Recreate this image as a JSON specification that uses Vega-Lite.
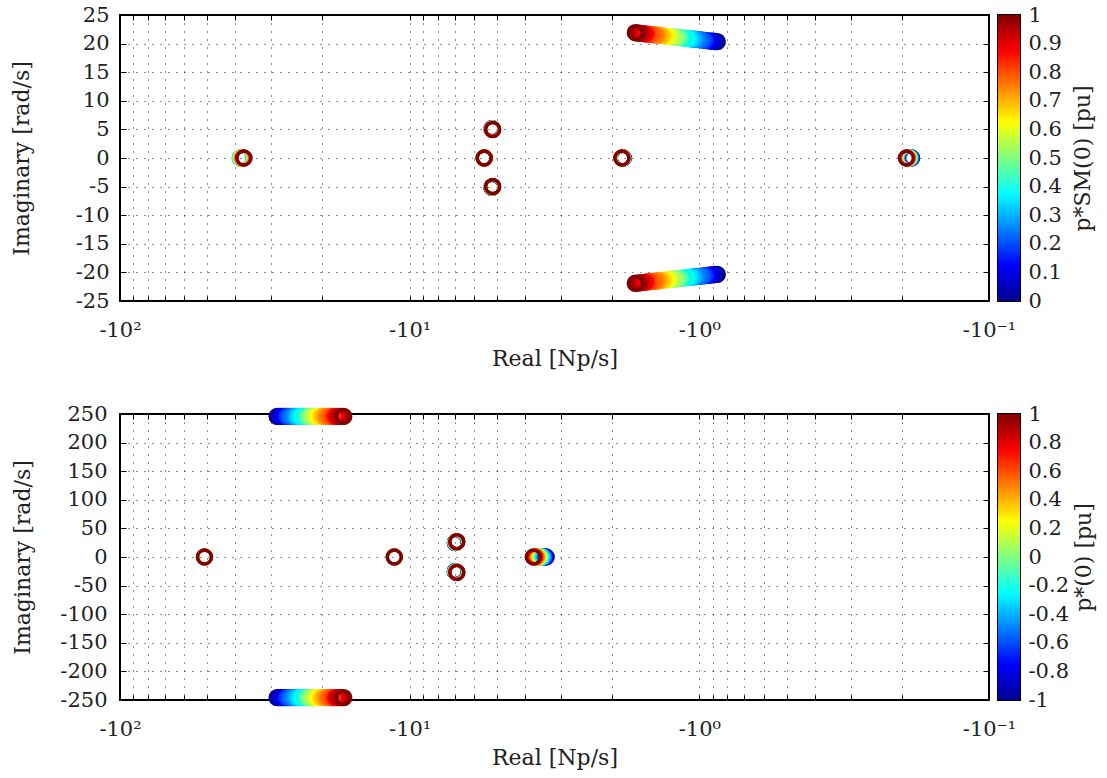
{
  "$schema": "https://vega.github.io/schema/vega-lite/v6.json",
  "background": "white",
  "padding": {"left": 9, "top": 3, "right": 5, "bottom": 5},
  "bounds": "flush",
  "columns": 2,
  "spacing": {"row": 113, "column": 9},
  "datasets": {
    "top": [
      {"re": -0.8670, "im": 20.33, "p": 0}, {"re": -0.8812, "im": 20.37, "p": 0.025}, {"re": -0.8957, "im": 20.41, "p": 0.05}, {"re": -0.9104, "im": 20.45, "p": 0.075}, {"re": -0.9254, "im": 20.49, "p": 0.1}, {"re": -0.9406, "im": 20.53, "p": 0.125}, {"re": -0.9560, "im": 20.57, "p": 0.15}, {"re": -0.9717, "im": 20.60, "p": 0.175}, {"re": -0.9877, "im": 20.64, "p": 0.2}, {"re": -1.0039, "im": 20.68, "p": 0.225}, {"re": -1.0204, "im": 20.72, "p": 0.25}, {"re": -1.0372, "im": 20.76, "p": 0.275}, {"re": -1.0542, "im": 20.80, "p": 0.3}, {"re": -1.0715, "im": 20.84, "p": 0.325}, {"re": -1.0891, "im": 20.88, "p": 0.35}, {"re": -1.1070, "im": 20.92, "p": 0.375}, {"re": -1.1252, "im": 20.96, "p": 0.4}, {"re": -1.1437, "im": 21.00, "p": 0.425}, {"re": -1.1625, "im": 21.04, "p": 0.45}, {"re": -1.1816, "im": 21.08, "p": 0.475}, {"re": -1.2010, "im": 21.12, "p": 0.5}, {"re": -1.2207, "im": 21.15, "p": 0.525}, {"re": -1.2408, "im": 21.19, "p": 0.55}, {"re": -1.2612, "im": 21.23, "p": 0.575}, {"re": -1.2819, "im": 21.27, "p": 0.6}, {"re": -1.3030, "im": 21.31, "p": 0.625}, {"re": -1.3244, "im": 21.35, "p": 0.65}, {"re": -1.3462, "im": 21.39, "p": 0.675}, {"re": -1.3683, "im": 21.43, "p": 0.7}, {"re": -1.3908, "im": 21.47, "p": 0.725}, {"re": -1.4136, "im": 21.51, "p": 0.75}, {"re": -1.4368, "im": 21.55, "p": 0.775}, {"re": -1.4604, "im": 21.59, "p": 0.8}, {"re": -1.4844, "im": 21.63, "p": 0.825}, {"re": -1.5088, "im": 21.66, "p": 0.85}, {"re": -1.5336, "im": 21.70, "p": 0.875}, {"re": -1.5588, "im": 21.74, "p": 0.9}, {"re": -1.5844, "im": 21.78, "p": 0.925}, {"re": -1.6104, "im": 21.82, "p": 0.95}, {"re": -1.6369, "im": 21.86, "p": 0.975}, {"re": -1.6638, "im": 21.90, "p": 1},
      {"re": -0.8670, "im": -20.33, "p": 0}, {"re": -0.8812, "im": -20.37, "p": 0.025}, {"re": -0.8957, "im": -20.41, "p": 0.05}, {"re": -0.9104, "im": -20.45, "p": 0.075}, {"re": -0.9254, "im": -20.49, "p": 0.1}, {"re": -0.9406, "im": -20.53, "p": 0.125}, {"re": -0.9560, "im": -20.57, "p": 0.15}, {"re": -0.9717, "im": -20.60, "p": 0.175}, {"re": -0.9877, "im": -20.64, "p": 0.2}, {"re": -1.0039, "im": -20.68, "p": 0.225}, {"re": -1.0204, "im": -20.72, "p": 0.25}, {"re": -1.0372, "im": -20.76, "p": 0.275}, {"re": -1.0542, "im": -20.80, "p": 0.3}, {"re": -1.0715, "im": -20.84, "p": 0.325}, {"re": -1.0891, "im": -20.88, "p": 0.35}, {"re": -1.1070, "im": -20.92, "p": 0.375}, {"re": -1.1252, "im": -20.96, "p": 0.4}, {"re": -1.1437, "im": -21.00, "p": 0.425}, {"re": -1.1625, "im": -21.04, "p": 0.45}, {"re": -1.1816, "im": -21.08, "p": 0.475}, {"re": -1.2010, "im": -21.12, "p": 0.5}, {"re": -1.2207, "im": -21.15, "p": 0.525}, {"re": -1.2408, "im": -21.19, "p": 0.55}, {"re": -1.2612, "im": -21.23, "p": 0.575}, {"re": -1.2819, "im": -21.27, "p": 0.6}, {"re": -1.3030, "im": -21.31, "p": 0.625}, {"re": -1.3244, "im": -21.35, "p": 0.65}, {"re": -1.3462, "im": -21.39, "p": 0.675}, {"re": -1.3683, "im": -21.43, "p": 0.7}, {"re": -1.3908, "im": -21.47, "p": 0.725}, {"re": -1.4136, "im": -21.51, "p": 0.75}, {"re": -1.4368, "im": -21.55, "p": 0.775}, {"re": -1.4604, "im": -21.59, "p": 0.8}, {"re": -1.4844, "im": -21.63, "p": 0.825}, {"re": -1.5088, "im": -21.66, "p": 0.85}, {"re": -1.5336, "im": -21.70, "p": 0.875}, {"re": -1.5588, "im": -21.74, "p": 0.9}, {"re": -1.5844, "im": -21.78, "p": 0.925}, {"re": -1.6104, "im": -21.82, "p": 0.95}, {"re": -1.6369, "im": -21.86, "p": 0.975}, {"re": -1.6638, "im": -21.90, "p": 1},
      {"re": -38.20, "im": 0, "p": 0}, {"re": -38.30, "im": 0, "p": 0.1}, {"re": -38.40, "im": 0, "p": 0.2}, {"re": -38.45, "im": 0, "p": 0.3}, {"re": -38.40, "im": 0, "p": 0.4}, {"re": -38.25, "im": 0, "p": 0.5}, {"re": -38.05, "im": 0, "p": 0.6}, {"re": -37.85, "im": 0, "p": 0.7}, {"re": -37.65, "im": 0, "p": 0.8}, {"re": -37.45, "im": 0, "p": 0.9}, {"re": -37.30, "im": 0, "p": 1},
      {"re": -5.53, "im": 0, "p": 0}, {"re": -5.53, "im": 0, "p": 0.1}, {"re": -5.53, "im": 0, "p": 0.2}, {"re": -5.53, "im": 0, "p": 0.3}, {"re": -5.53, "im": 0, "p": 0.4}, {"re": -5.53, "im": 0, "p": 0.5}, {"re": -5.53, "im": 0, "p": 0.6}, {"re": -5.53, "im": 0, "p": 0.7}, {"re": -5.53, "im": 0, "p": 0.8}, {"re": -5.53, "im": 0, "p": 0.9}, {"re": -5.53, "im": 0, "p": 1},
      {"re": -5.200, "im": 5.150, "p": 0}, {"re": -5.197, "im": 5.133, "p": 0.1}, {"re": -5.194, "im": 5.116, "p": 0.2}, {"re": -5.191, "im": 5.099, "p": 0.3}, {"re": -5.188, "im": 5.082, "p": 0.4}, {"re": -5.185, "im": 5.065, "p": 0.5}, {"re": -5.182, "im": 5.048, "p": 0.6}, {"re": -5.179, "im": 5.031, "p": 0.7}, {"re": -5.176, "im": 5.014, "p": 0.8}, {"re": -5.173, "im": 4.997, "p": 0.9}, {"re": -5.170, "im": 4.980, "p": 1},
      {"re": -5.200, "im": -5.150, "p": 0}, {"re": -5.197, "im": -5.133, "p": 0.1}, {"re": -5.194, "im": -5.116, "p": 0.2}, {"re": -5.191, "im": -5.099, "p": 0.3}, {"re": -5.188, "im": -5.082, "p": 0.4}, {"re": -5.185, "im": -5.065, "p": 0.5}, {"re": -5.182, "im": -5.048, "p": 0.6}, {"re": -5.179, "im": -5.031, "p": 0.7}, {"re": -5.176, "im": -5.014, "p": 0.8}, {"re": -5.173, "im": -4.997, "p": 0.9}, {"re": -5.170, "im": -4.980, "p": 1},
      {"re": -1.830, "im": 0, "p": 0}, {"re": -1.832, "im": 0, "p": 0.1}, {"re": -1.834, "im": 0, "p": 0.2}, {"re": -1.837, "im": 0, "p": 0.3}, {"re": -1.839, "im": 0, "p": 0.4}, {"re": -1.841, "im": 0, "p": 0.5}, {"re": -1.843, "im": 0, "p": 0.6}, {"re": -1.845, "im": 0, "p": 0.7}, {"re": -1.848, "im": 0, "p": 0.8}, {"re": -1.850, "im": 0, "p": 0.9}, {"re": -1.852, "im": 0, "p": 1},
      {"re": -0.1850, "im": 0, "p": 0}, {"re": -0.1858, "im": 0, "p": 0.1}, {"re": -0.1866, "im": 0, "p": 0.2}, {"re": -0.1874, "im": 0, "p": 0.3}, {"re": -0.1882, "im": 0, "p": 0.4}, {"re": -0.1890, "im": 0, "p": 0.5}, {"re": -0.1898, "im": 0, "p": 0.6}, {"re": -0.1906, "im": 0, "p": 0.7}, {"re": -0.1914, "im": 0, "p": 0.8}, {"re": -0.1922, "im": 0, "p": 0.9}, {"re": -0.1930, "im": 0, "p": 1}
    ],
    "bottom": [
      {"re": -28.69, "im": 246, "p": -1}, {"re": -28.31, "im": 246, "p": -0.95}, {"re": -27.94, "im": 246, "p": -0.9}, {"re": -27.57, "im": 246, "p": -0.85}, {"re": -27.21, "im": 246, "p": -0.8}, {"re": -26.85, "im": 246, "p": -0.75}, {"re": -26.50, "im": 246, "p": -0.7}, {"re": -26.15, "im": 246, "p": -0.65}, {"re": -25.80, "im": 246, "p": -0.6}, {"re": -25.46, "im": 246, "p": -0.55}, {"re": -25.13, "im": 246, "p": -0.5}, {"re": -24.80, "im": 246, "p": -0.45}, {"re": -24.47, "im": 246, "p": -0.4}, {"re": -24.15, "im": 246, "p": -0.35}, {"re": -23.83, "im": 246, "p": -0.3}, {"re": -23.51, "im": 246, "p": -0.25}, {"re": -23.20, "im": 246, "p": -0.2}, {"re": -22.90, "im": 246, "p": -0.15}, {"re": -22.60, "im": 246, "p": -0.1}, {"re": -22.30, "im": 246, "p": -0.05}, {"re": -22.00, "im": 246, "p": 0}, {"re": -21.71, "im": 246, "p": 0.05}, {"re": -21.43, "im": 246, "p": 0.1}, {"re": -21.15, "im": 246, "p": 0.15}, {"re": -20.87, "im": 246, "p": 0.2}, {"re": -20.59, "im": 246, "p": 0.25}, {"re": -20.32, "im": 246, "p": 0.3}, {"re": -20.05, "im": 246, "p": 0.35}, {"re": -19.79, "im": 246, "p": 0.4}, {"re": -19.53, "im": 246, "p": 0.45}, {"re": -19.27, "im": 246, "p": 0.5}, {"re": -19.02, "im": 246, "p": 0.55}, {"re": -18.77, "im": 246, "p": 0.6}, {"re": -18.52, "im": 246, "p": 0.65}, {"re": -18.28, "im": 246, "p": 0.7}, {"re": -18.03, "im": 246, "p": 0.75}, {"re": -17.80, "im": 246, "p": 0.8}, {"re": -17.56, "im": 246, "p": 0.85}, {"re": -17.33, "im": 246, "p": 0.9}, {"re": -17.10, "im": 246, "p": 0.95}, {"re": -16.88, "im": 246, "p": 1},
      {"re": -28.69, "im": -246, "p": -1}, {"re": -28.31, "im": -246, "p": -0.95}, {"re": -27.94, "im": -246, "p": -0.9}, {"re": -27.57, "im": -246, "p": -0.85}, {"re": -27.21, "im": -246, "p": -0.8}, {"re": -26.85, "im": -246, "p": -0.75}, {"re": -26.50, "im": -246, "p": -0.7}, {"re": -26.15, "im": -246, "p": -0.65}, {"re": -25.80, "im": -246, "p": -0.6}, {"re": -25.46, "im": -246, "p": -0.55}, {"re": -25.13, "im": -246, "p": -0.5}, {"re": -24.80, "im": -246, "p": -0.45}, {"re": -24.47, "im": -246, "p": -0.4}, {"re": -24.15, "im": -246, "p": -0.35}, {"re": -23.83, "im": -246, "p": -0.3}, {"re": -23.51, "im": -246, "p": -0.25}, {"re": -23.20, "im": -246, "p": -0.2}, {"re": -22.90, "im": -246, "p": -0.15}, {"re": -22.60, "im": -246, "p": -0.1}, {"re": -22.30, "im": -246, "p": -0.05}, {"re": -22.00, "im": -246, "p": 0}, {"re": -21.71, "im": -246, "p": 0.05}, {"re": -21.43, "im": -246, "p": 0.1}, {"re": -21.15, "im": -246, "p": 0.15}, {"re": -20.87, "im": -246, "p": 0.2}, {"re": -20.59, "im": -246, "p": 0.25}, {"re": -20.32, "im": -246, "p": 0.3}, {"re": -20.05, "im": -246, "p": 0.35}, {"re": -19.79, "im": -246, "p": 0.4}, {"re": -19.53, "im": -246, "p": 0.45}, {"re": -19.27, "im": -246, "p": 0.5}, {"re": -19.02, "im": -246, "p": 0.55}, {"re": -18.77, "im": -246, "p": 0.6}, {"re": -18.52, "im": -246, "p": 0.65}, {"re": -18.28, "im": -246, "p": 0.7}, {"re": -18.03, "im": -246, "p": 0.75}, {"re": -17.80, "im": -246, "p": 0.8}, {"re": -17.56, "im": -246, "p": 0.85}, {"re": -17.33, "im": -246, "p": 0.9}, {"re": -17.10, "im": -246, "p": 0.95}, {"re": -16.88, "im": -246, "p": 1},
      {"re": -51.1, "im": 0, "p": -1}, {"re": -51.1, "im": 0, "p": -0.6}, {"re": -51.1, "im": 0, "p": -0.2}, {"re": -51.1, "im": 0, "p": 0.2}, {"re": -51.1, "im": 0, "p": 0.6}, {"re": -51.1, "im": 0, "p": 1},
      {"re": -11.3, "im": 0, "p": -1}, {"re": -11.3, "im": 0, "p": -0.6}, {"re": -11.3, "im": 0, "p": -0.2}, {"re": -11.3, "im": 0, "p": 0.2}, {"re": -11.3, "im": 0, "p": 0.6}, {"re": -11.3, "im": 0, "p": 1},
      {"re": -6.960, "im": 25.3, "p": -1}, {"re": -6.951, "im": 25.47, "p": -0.8}, {"re": -6.942, "im": 25.64, "p": -0.6}, {"re": -6.933, "im": 25.81, "p": -0.4}, {"re": -6.924, "im": 25.98, "p": -0.2}, {"re": -6.915, "im": 26.15, "p": 0}, {"re": -6.906, "im": 26.32, "p": 0.2}, {"re": -6.897, "im": 26.49, "p": 0.4}, {"re": -6.888, "im": 26.66, "p": 0.6}, {"re": -6.879, "im": 26.83, "p": 0.8}, {"re": -6.870, "im": 27.0, "p": 1},
      {"re": -6.960, "im": -25.3, "p": -1}, {"re": -6.951, "im": -25.47, "p": -0.8}, {"re": -6.942, "im": -25.64, "p": -0.6}, {"re": -6.933, "im": -25.81, "p": -0.4}, {"re": -6.924, "im": -25.98, "p": -0.2}, {"re": -6.915, "im": -26.15, "p": 0}, {"re": -6.906, "im": -26.32, "p": 0.2}, {"re": -6.897, "im": -26.49, "p": 0.4}, {"re": -6.888, "im": -26.66, "p": 0.6}, {"re": -6.879, "im": -26.83, "p": 0.8}, {"re": -6.870, "im": -27.0, "p": 1},
      {"re": -3.377, "im": 0, "p": -1}, {"re": -3.412, "im": 0, "p": -0.8}, {"re": -3.448, "im": 0, "p": -0.6}, {"re": -3.483, "im": 0, "p": -0.4}, {"re": -3.520, "im": 0, "p": -0.2}, {"re": -3.556, "im": 0, "p": 0}, {"re": -3.593, "im": 0, "p": 0.2}, {"re": -3.631, "im": 0, "p": 0.4}, {"re": -3.669, "im": 0, "p": 0.6}, {"re": -3.707, "im": 0, "p": 0.8}, {"re": -3.745, "im": 0, "p": 1}
    ]
  },
  "concat": [
    {
      "width": 869,
      "height": 286,
      "data": {"name": "top"},
      "layer": [
        {
          "mark": {"type": "point", "shape": "circle", "filled": false, "strokeWidth": 3.3, "size": 196, "opacity": 1},
          "encoding": {
            "x": {"field": "re", "type": "quantitative", "scale": {"type": "log", "domain": [-100, -0.1], "nice": false},
              "axis": {"title": "Real [Np/s]", "grid": true, "tickSize": -5, "labelPadding": 23, "titlePadding": 8,
                "labelExpr": "abs(datum.value+100)<1e-6 ? '-10²' : abs(datum.value+10)<1e-6 ? '-10¹' : abs(datum.value+1)<1e-6 ? '-10⁰' : abs(datum.value+0.1)<1e-6 ? '-10⁻¹' : ''"}},
            "y": {"field": "im", "type": "quantitative", "scale": {"domain": [-25, 25], "nice": false, "zero": false},
              "axis": {"title": "Imaginary [rad/s]", "values": [-25, -20, -15, -10, -5, 0, 5, 10, 15, 20, 25], "grid": true, "tickSize": -6, "labelPadding": 17, "titlePadding": 42,
                "labelExpr": "datum.value < 0 ? '-' + format(-datum.value, 'd') : format(datum.value, 'd')"}},
            "color": {"field": "p", "type": "quantitative",
              "scale": {"domain": [0, 0.125, 0.25, 0.375, 0.5, 0.625, 0.75, 0.875, 1], "range": ["#00008f", "#0000ff", "#0080ff", "#00ffff", "#80ff80", "#ffff00", "#ff8000", "#ff0000", "#800000"]},
              "legend": null},
            "order": {"field": "p", "type": "quantitative", "sort": "ascending"}
          }
        },
        {
          "mark": {"type": "point", "opacity": 0},
          "encoding": {
            "x": {"field": "re", "type": "quantitative", "scale": {"type": "log", "domain": [-100, -0.1], "nice": false},
              "axis": {"orient": "top", "labels": false, "grid": false, "title": null, "tickSize": -5}},
            "y": {"field": "im", "type": "quantitative", "scale": {"domain": [-25, 25], "nice": false, "zero": false},
              "axis": {"orient": "right", "labels": false, "grid": false, "title": null, "tickSize": -6, "values": [-25, -20, -15, -10, -5, 0, 5, 10, 15, 20, 25]}}
          }
        }
      ],
      "resolve": {"axis": {"x": "independent", "y": "independent"}}
    },
    {
      "width": 22,
      "height": 286,
      "data": {"values": [{"lo": 0, "hi": 1}]},
      "layer": [
        {
          "mark": {"type": "rect", "stroke": null, "fill": {"gradient": "linear", "x1": 0, "y1": 1, "x2": 0, "y2": 0,
            "stops": [{"offset": 0, "color": "#00008f"}, {"offset": 0.125, "color": "#0000ff"}, {"offset": 0.25, "color": "#0080ff"}, {"offset": 0.375, "color": "#00ffff"}, {"offset": 0.5, "color": "#80ff80"}, {"offset": 0.625, "color": "#ffff00"}, {"offset": 0.75, "color": "#ff8000"}, {"offset": 0.875, "color": "#ff0000"}, {"offset": 1, "color": "#800000"}]}},
          "encoding": {
            "x": {"datum": 0, "type": "quantitative", "scale": {"domain": [0, 1], "nice": false, "zero": false}, "axis": null},
            "x2": {"datum": 1},
            "y": {"field": "lo", "type": "quantitative", "scale": {"domain": [0, 1], "nice": false, "zero": false},
              "axis": {"orient": "right", "title": "p*SM(0) [pu]", "titleAngle": 270, "titleBaseline": "top", "titlePadding": 11,
                "values": [0, 0.1, 0.2, 0.3, 0.4, 0.5, 0.6, 0.7, 0.8, 0.9, 1], "grid": false, "tickSize": -4, "labelPadding": 12,
                "labelExpr": "format(datum.value, '~g')"}},
            "y2": {"field": "hi"}
          }
        },
        {
          "mark": {"type": "rect", "opacity": 0},
          "encoding": {
            "x": {"datum": 0, "type": "quantitative", "scale": {"domain": [0, 1], "nice": false, "zero": false}, "axis": null},
            "x2": {"datum": 1},
            "y": {"field": "lo", "type": "quantitative", "scale": {"domain": [0, 1], "nice": false, "zero": false},
              "axis": {"orient": "left", "title": null, "labels": false, "grid": false, "tickSize": -4,
                "values": [0, 0.1, 0.2, 0.3, 0.4, 0.5, 0.6, 0.7, 0.8, 0.9, 1]}},
            "y2": {"field": "hi"}
          }
        }
      ],
      "resolve": {"axis": {"y": "independent"}}
    },
    {
      "width": 869,
      "height": 286,
      "data": {"name": "bottom"},
      "layer": [
        {
          "mark": {"type": "point", "shape": "circle", "filled": false, "strokeWidth": 3.3, "size": 196, "opacity": 1},
          "encoding": {
            "x": {"field": "re", "type": "quantitative", "scale": {"type": "log", "domain": [-100, -0.1], "nice": false},
              "axis": {"title": "Real [Np/s]", "grid": true, "tickSize": -5, "labelPadding": 23, "titlePadding": 8,
                "labelExpr": "abs(datum.value+100)<1e-6 ? '-10²' : abs(datum.value+10)<1e-6 ? '-10¹' : abs(datum.value+1)<1e-6 ? '-10⁰' : abs(datum.value+0.1)<1e-6 ? '-10⁻¹' : ''"}},
            "y": {"field": "im", "type": "quantitative", "scale": {"domain": [-250, 250], "nice": false, "zero": false},
              "axis": {"title": "Imaginary [rad/s]", "values": [-250, -200, -150, -100, -50, 0, 50, 100, 150, 200, 250], "grid": true, "tickSize": -6, "labelPadding": 19, "titlePadding": 25,
                "labelExpr": "datum.value < 0 ? '-' + format(-datum.value, 'd') : format(datum.value, 'd')"}},
            "color": {"field": "p", "type": "quantitative",
              "scale": {"domain": [-1, -0.75, -0.5, -0.25, 0, 0.25, 0.5, 0.75, 1], "range": ["#00008f", "#0000ff", "#0080ff", "#00ffff", "#80ff80", "#ffff00", "#ff8000", "#ff0000", "#800000"]},
              "legend": null},
            "order": {"field": "p", "type": "quantitative", "sort": "ascending"}
          }
        },
        {
          "mark": {"type": "point", "opacity": 0},
          "encoding": {
            "x": {"field": "re", "type": "quantitative", "scale": {"type": "log", "domain": [-100, -0.1], "nice": false},
              "axis": {"orient": "top", "labels": false, "grid": false, "title": null, "tickSize": -5}},
            "y": {"field": "im", "type": "quantitative", "scale": {"domain": [-250, 250], "nice": false, "zero": false},
              "axis": {"orient": "right", "labels": false, "grid": false, "title": null, "tickSize": -6, "values": [-250, -200, -150, -100, -50, 0, 50, 100, 150, 200, 250]}}
          }
        }
      ],
      "resolve": {"axis": {"x": "independent", "y": "independent"}}
    },
    {
      "width": 22,
      "height": 286,
      "data": {"values": [{"lo": -1, "hi": 1}]},
      "layer": [
        {
          "mark": {"type": "rect", "stroke": null, "fill": {"gradient": "linear", "x1": 0, "y1": 1, "x2": 0, "y2": 0,
            "stops": [{"offset": 0, "color": "#00008f"}, {"offset": 0.125, "color": "#0000ff"}, {"offset": 0.25, "color": "#0080ff"}, {"offset": 0.375, "color": "#00ffff"}, {"offset": 0.5, "color": "#80ff80"}, {"offset": 0.625, "color": "#ffff00"}, {"offset": 0.75, "color": "#ff8000"}, {"offset": 0.875, "color": "#ff0000"}, {"offset": 1, "color": "#800000"}]}},
          "encoding": {
            "x": {"datum": 0, "type": "quantitative", "scale": {"domain": [0, 1], "nice": false, "zero": false}, "axis": null},
            "x2": {"datum": 1},
            "y": {"field": "lo", "type": "quantitative", "scale": {"domain": [-1, 1], "nice": false, "zero": false},
              "axis": {"orient": "right", "title": "p*(0) [pu]", "titleAngle": 270, "titleBaseline": "top", "titlePadding": 5,
                "values": [-1, -0.8, -0.6, -0.4, -0.2, 0, 0.2, 0.4, 0.6, 0.8, 1], "grid": false, "tickSize": -4, "labelPadding": 12,
                "labelExpr": "datum.value < 0 ? '-' + format(-datum.value, '~g') : format(datum.value, '~g')"}},
            "y2": {"field": "hi"}
          }
        },
        {
          "mark": {"type": "rect", "opacity": 0},
          "encoding": {
            "x": {"datum": 0, "type": "quantitative", "scale": {"domain": [0, 1], "nice": false, "zero": false}, "axis": null},
            "x2": {"datum": 1},
            "y": {"field": "lo", "type": "quantitative", "scale": {"domain": [-1, 1], "nice": false, "zero": false},
              "axis": {"orient": "left", "title": null, "labels": false, "grid": false, "tickSize": -4,
                "values": [-1, -0.8, -0.6, -0.4, -0.2, 0, 0.2, 0.4, 0.6, 0.8, 1]}},
            "y2": {"field": "hi"}
          }
        }
      ],
      "resolve": {"axis": {"y": "independent"}}
    }
  ],
  "resolve": {"scale": {"color": "independent"}},
  "config": {
    "font": "DejaVu Serif",
    "view": {"stroke": "black", "strokeWidth": 2},
    "axis": {
      "labelFont": "DejaVu Serif", "labelFontSize": 21, "labelColor": "#222",
      "titleFont": "DejaVu Serif", "titleFontSize": 22, "titleFontWeight": "normal", "titleColor": "#222",
      "domain": false, "ticks": true, "tickColor": "black", "tickWidth": 1,
      "gridColor": "black", "gridDash": [1, 7], "gridOpacity": 0.85, "gridWidth": 1,
      "labelOverlap": false, "labelFlush": false
    }
  }
}
